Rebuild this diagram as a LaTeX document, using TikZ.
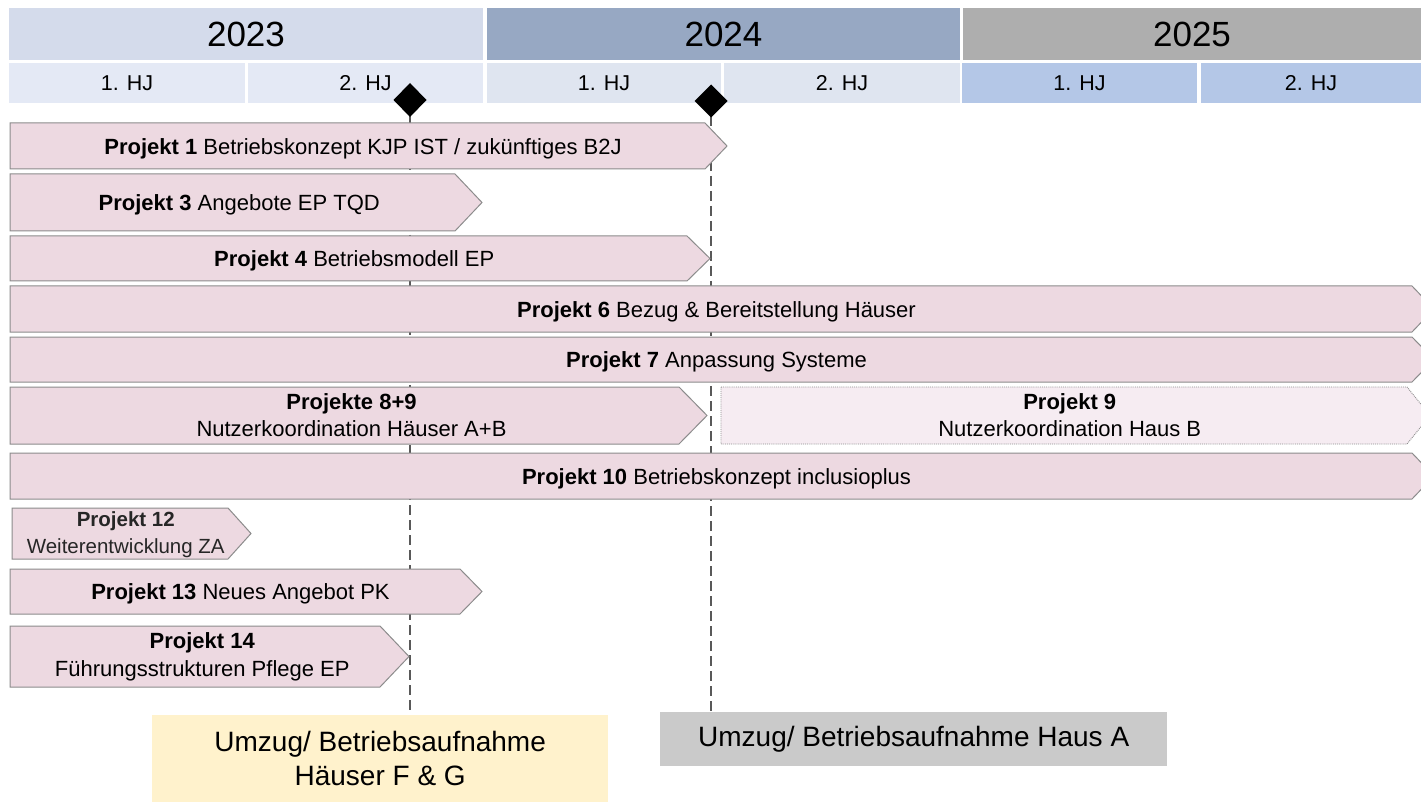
\documentclass[tikz,border=0pt]{standalone}
\usepackage{fontspec}
\setmainfont{Liberation Sans}
\definecolor{yrA}{HTML}{D4DBEB}
\definecolor{yrB}{HTML}{97A8C3}
\definecolor{yrC}{HTML}{AEAEAE}
\definecolor{hjA}{HTML}{E4E9F5}
\definecolor{hjB}{HTML}{DFE5F0}
\definecolor{hjC}{HTML}{B4C7E7}
\definecolor{barfill}{HTML}{EDD9E1}
\definecolor{barline}{HTML}{8C8C8C}
\definecolor{barnine}{HTML}{F6ECF2}
\definecolor{yellowbox}{HTML}{FFF2CC}
\definecolor{graybox}{HTML}{CACACA}
\definecolor{msline}{HTML}{595959}
\tikzset{
  cell/.style={anchor=north west, inner sep=0pt, outer sep=0pt, draw=none, text=black},
  yearcell/.style={cell, minimum height=52pt, font=\fontsize{35}{40}\selectfont},
  hjcell/.style={cell, minimum height=40pt, font=\fontsize{21.5}{26}\selectfont},
  barstyle/.style={fill=barfill, draw=barline, line width=1pt, line join=miter},
  barninestyle/.style={fill=barnine, draw=barline, line width=0.9pt, densely dotted},
  bartext/.style={inner sep=0pt, align=center, text=black, font=\fontsize{22}{27}\selectfont},
  onelinetext/.style={bartext, yshift=-2.5pt},
  msdash/.style={draw=msline, line width=1.5pt, dash pattern=on 10pt off 5pt},
  msmark/.style={fill=black},
  bottombox/.style={anchor=north west, inner sep=0pt, align=center, text=black, font=\fontsize{28}{34}\selectfont},
}
\newcommand{\pbar}[7]{% style, name, left, top, body end, tip, bottom
  \path[#1] (#3,#4) -- (#5,#4) -- (#6,{(#4+#7)/2}) -- (#5,#7) -- (#3,#7) -- cycle;
  \coordinate (#2) at ({(#3+(#5+#6)/2)/2},{(#4+#7)/2});}
\begin{document}
\begin{tikzpicture}[x=1pt,y=-1pt]
\useasboundingbox (0,0) rectangle (1421,802);
\fill[white] (0,0) rectangle (1421,802);
\clip (0,0) rectangle (1421,802);
% header years
\node[yearcell, fill=yrA, minimum width=474pt] (y23) at (9,8) {2023};
\node[yearcell, fill=yrB, minimum width=473pt] (y24) at (487,8) {2024};
\node[yearcell, fill=yrC, minimum width=458pt] (y25) at (963,8) {2025};
% half years
\node[hjcell, fill=hjA, minimum width=236pt] (h1) at (9,63) {1. HJ};
\node[hjcell, fill=hjA, minimum width=235pt] (h2) at (248,63) {2. HJ};
\node[hjcell, fill=hjB, minimum width=234pt] (h3) at (487,63) {1. HJ};
\node[hjcell, fill=hjB, minimum width=236pt] (h4) at (724,63) {2. HJ};
\node[hjcell, fill=hjC, minimum width=235pt] (h5) at (962,63) {1. HJ};
\node[hjcell, fill=hjC, minimum width=220pt] (h6) at (1201,63) {2. HJ};
% milestone lines
\coordinate (m1) at (410,100);
\coordinate (m2) at (711,101);
\coordinate (m1end) at (410,713);
\coordinate (m2end) at (711,712);
\draw[msdash] (m1) -- (m1end);
\draw[msdash] (m2) -- (m2end);
% bars
\pbar{barstyle}{p1}{10}{123}{705}{727}{169}
\pbar{barstyle}{p3}{10}{174}{455}{482}{231}
\pbar{barstyle}{p4}{10}{236}{687}{710}{281}
\pbar{barstyle}{p6}{10}{286}{1412}{1434}{332}
\pbar{barstyle}{p7}{10}{337}{1412}{1434}{382}
\pbar{barstyle}{p89}{10}{387}{679}{707}{444}
\pbar{barninestyle}{p9}{721}{387}{1407}{1430}{444}
\pbar{barstyle}{p10}{10}{453}{1412}{1434}{499}
\pbar{barstyle}{p12}{12}{508}{228}{251}{559}
\pbar{barstyle}{p13}{10}{569}{460}{482}{614}
\pbar{barstyle}{p14}{10}{626}{380}{409}{687}
% bar texts
\node[onelinetext] (t1) at (p1) {\textbf{Projekt 1} Betriebskonzept KJP IST / zukünftiges B2J};
\node[onelinetext] (t3) at (p3) {\textbf{Projekt 3} Angebote EP TQD};
\node[onelinetext] (t4) at (p4) {\textbf{Projekt 4} Betriebsmodell EP};
\node[onelinetext] (t6) at (p6) {\textbf{Projekt 6} Bezug \& Bereitstellung Häuser};
\node[onelinetext] (t7) at (p7) {\textbf{Projekt 7} Anpassung Systeme};
\node[bartext] (t89) at (p89) {\textbf{Projekte 8+9}\\Nutzerkoordination Häuser A+B};
\node[bartext] (t9) at (p9) {\textbf{Projekt 9}\\Nutzerkoordination Haus B};
\node[onelinetext] (t10) at (p10) {\textbf{Projekt 10} Betriebskonzept inclusioplus};
\node[bartext, font=\fontsize{20.5}{27}\selectfont, text=black!85] (t12) at ([yshift=-1pt]p12) {\textbf{Projekt 12}\\Weiterentwicklung ZA};
\node[onelinetext] (t13) at (p13) {\textbf{Projekt 13} Neues Angebot PK};
\node[bartext, font=\fontsize{22}{28}\selectfont] (t14) at (p14) {\textbf{Projekt 14}\\Führungsstrukturen Pflege EP};
% milestone diamonds
\fill[msmark] (m1) ++(0,-17) -- ++(16.5,17) -- ++(-16.5,17) -- ++(-16.5,-17) -- cycle;
\fill[msmark] (m2) ++(0,-16.5) -- ++(16.5,16.5) -- ++(-16.5,16.5) -- ++(-16.5,-16.5) -- cycle;
% bottom boxes
\node[bottombox, fill=yellowbox, minimum width=456pt, minimum height=87pt] (u1) at (152,715) {Umzug/ Betriebsaufnahme\\Häuser F \& G};
\node[bottombox, fill=graybox, minimum width=507pt, minimum height=54pt] (u2) at (660,712) {Umzug/ Betriebsaufnahme Haus A};
\end{tikzpicture}
\end{document}
